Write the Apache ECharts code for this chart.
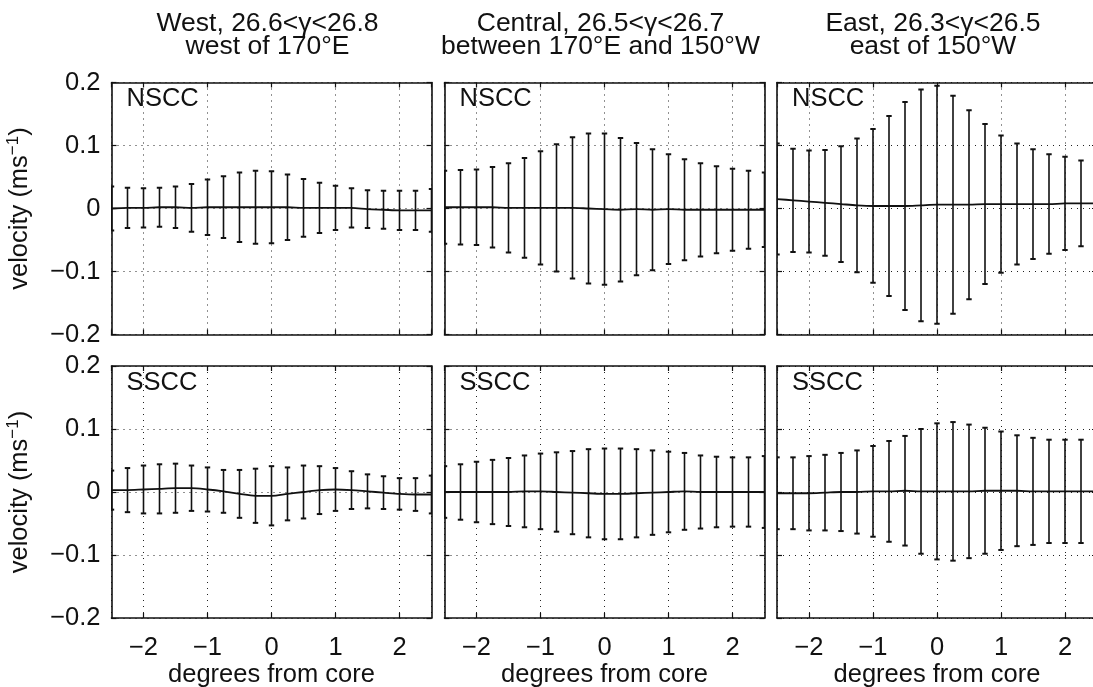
<!DOCTYPE html>
<html>
<head>
<meta charset="utf-8">
<script src="https://cdn.jsdelivr.net/npm/echarts@6/dist/echarts.min.js"></script>
<style>
  html, body { margin: 0; padding: 0; background: #fff; }
  #chart { width: 1093px; height: 687px; }
</style>
</head>
<body>
<div id="chart"></div>
<script>
// ---------------- data ----------------
const degrees = [-2.5, -2.25, -2, -1.75, -1.5, -1.25, -1, -0.75, -0.5, -0.25, 0,
                 0.25, 0.5, 0.75, 1, 1.25, 1.5, 1.75, 2, 2.25, 2.5];

const xTicks = [-2, -1, 0, 1, 2];
const yTicks = [-0.2, -0.1, 0, 0.1, 0.2];

const titleLine1 = ['West, 26.6<γ<26.8', 'Central, 26.5<γ<26.7', 'East, 26.3<γ<26.5'];
const titleLine2 = ['west of 170°E', 'between 170°E and 150°W', 'east of 150°W'];
const currentNames = ['NSCC', 'SSCC'];
const xAxisName = 'degrees from core';

// NSCC (top row)
const nsccWestMean = [0.000, 0.001, 0.001, 0.002, 0.002, 0.001, 0.002, 0.002, 0.002, 0.002, 0.002,
                      0.002, 0.001, 0.001, 0.001, 0.001, -0.001, -0.002, -0.003, -0.003, -0.003];
const nsccWestErr  = [0.035, 0.032, 0.031, 0.031, 0.033, 0.038, 0.044, 0.049, 0.055, 0.058, 0.057,
                      0.052, 0.046, 0.040, 0.035, 0.031, 0.030, 0.030, 0.031, 0.031, 0.034];

const nsccCentralMean = [0.002, 0.002, 0.002, 0.002, 0.001, 0.001, 0.001, 0.001, 0.001, 0.000, -0.001,
                         -0.002, -0.001, -0.002, -0.001, -0.002, -0.002, -0.002, -0.002, -0.002, -0.002];
const nsccCentralErr  = [0.058, 0.059, 0.060, 0.064, 0.071, 0.079, 0.090, 0.101, 0.112, 0.119, 0.120,
                         0.114, 0.105, 0.096, 0.087, 0.080, 0.074, 0.069, 0.065, 0.062, 0.059];

const nsccEastMean = [0.015, 0.013, 0.011, 0.009, 0.007, 0.005, 0.004, 0.004, 0.004, 0.005, 0.006,
                      0.006, 0.006, 0.007, 0.007, 0.007, 0.007, 0.007, 0.008, 0.008, 0.008];
const nsccEastErr  = [0.088, 0.082, 0.081, 0.084, 0.092, 0.106, 0.122, 0.143, 0.165, 0.184, 0.189,
                      0.173, 0.150, 0.127, 0.109, 0.096, 0.087, 0.079, 0.074, 0.068, 0.064];

// SSCC (bottom row)
const ssccWestMean = [0.003, 0.003, 0.004, 0.005, 0.006, 0.006, 0.004, 0.001, -0.003, -0.006, -0.006,
                      -0.003, 0.000, 0.003, 0.004, 0.003, 0.001, -0.001, -0.003, -0.004, -0.004];
const ssccWestErr  = [0.031, 0.035, 0.038, 0.039, 0.039, 0.036, 0.035, 0.034, 0.038, 0.043, 0.047,
                      0.042, 0.042, 0.038, 0.034, 0.030, 0.027, 0.026, 0.025, 0.026, 0.030];

const ssccCentralMean = [0.000, 0.000, 0.000, 0.000, 0.000, 0.001, 0.001, 0.000, -0.001, -0.002, -0.003,
                         -0.003, -0.002, -0.001, 0.000, 0.001, 0.000, 0.000, 0.000, 0.000, 0.000];
const ssccCentralErr  = [0.041, 0.044, 0.048, 0.051, 0.054, 0.057, 0.060, 0.063, 0.066, 0.070, 0.072,
                         0.072, 0.070, 0.067, 0.064, 0.061, 0.058, 0.056, 0.055, 0.055, 0.057];

const ssccEastMean = [-0.002, -0.002, -0.002, -0.001, 0.000, 0.000, 0.001, 0.001, 0.002, 0.001, 0.001,
                      0.001, 0.001, 0.002, 0.002, 0.002, 0.001, 0.001, 0.001, 0.001, 0.001];
const ssccEastErr  = [0.057, 0.057, 0.059, 0.060, 0.062, 0.066, 0.072, 0.080, 0.087, 0.099, 0.108,
                      0.110, 0.106, 0.100, 0.094, 0.088, 0.085, 0.082, 0.082, 0.082, 0.082];

// ---------------- layout ----------------
const FONT = "'Liberation Sans', Arial, Helvetica, sans-serif";
const INK = '#111';
const colLeft = [111.5, 444.5, 777];
const colWidth = 320;
const rowTop = [82.5, 366];
const rowHeight = 252;

const panels = [
  { row: 0, col: 0, mean: nsccWestMean, err: nsccWestErr },
  { row: 0, col: 1, mean: nsccCentralMean, err: nsccCentralErr },
  { row: 0, col: 2, mean: nsccEastMean, err: nsccEastErr },
  { row: 1, col: 0, mean: ssccWestMean, err: ssccWestErr },
  { row: 1, col: 1, mean: ssccCentralMean, err: ssccCentralErr },
  { row: 1, col: 2, mean: ssccEastMean, err: ssccEastErr }
];

const fmtX = v => (v < 0 ? '\u2212' : '') + Math.abs(v);
const fmtY = v => {
  if (Math.abs(v) < 1e-9) return '0';
  return (v < 0 ? '\u2212' : '') + Math.abs(v).toFixed(1);
};

const grids = [], xAxes = [], yAxes = [], series = [], titles = [];

panels.forEach((p, i) => {
  grids.push({ left: colLeft[p.col], top: rowTop[p.row], width: colWidth, height: rowHeight,
               containLabel: false, outerBoundsMode: 'none', show: false });
  const bottomRow = p.row === 1;
  const leftCol = p.col === 0;
  // bottom x axis
  xAxes.push({
    type: 'value', gridIndex: i, min: -2.5, max: 2.5, position: 'bottom',
    axisLine: { show: true, onZero: false, lineStyle: { color: INK, width: 1.6 } },
    axisTick: { show: true, inside: true, length: 5, lineStyle: { color: INK, width: 1.2 } },
    axisLabel: { show: bottomRow, showMinLabel: false, showMaxLabel: false, margin: 17,
                 fontSize: 25.5, fontFamily: FONT, color: INK, formatter: fmtX },
    splitLine: { show: true, lineStyle: { color: '#222', width: 1, type: [1, 5] } },
    name: bottomRow ? xAxisName : '', nameLocation: 'middle', nameGap: 44,
    nameTextStyle: { fontSize: 25.5, fontFamily: FONT, color: INK }
  });
  // top x axis (box + ticks)
  xAxes.push({
    type: 'value', gridIndex: i, min: -2.5, max: 2.5, position: 'top',
    axisLine: { show: true, onZero: false, lineStyle: { color: INK, width: 1.6 } },
    axisTick: { show: true, inside: true, length: 5, lineStyle: { color: INK, width: 1.2 } },
    axisLabel: { show: false }, splitLine: { show: false }
  });
  // left y axis
  yAxes.push({
    type: 'value', gridIndex: i, min: -0.2, max: 0.2, interval: 0.1, position: 'left',
    axisLine: { show: true, onZero: false, lineStyle: { color: INK, width: 1.6 } },
    axisTick: { show: true, inside: true, length: 5, lineStyle: { color: INK, width: 1.2 } },
    axisLabel: { show: leftCol, margin: 11, fontSize: 25.5, fontFamily: FONT, color: INK, formatter: fmtY },
    splitLine: { show: true, lineStyle: { color: '#222', width: 1, type: [1, 5] } },
    name: leftCol ? '{n|velocity (ms}{s|\u22121}{n|)}' : '', nameLocation: 'middle', nameGap: 77,
    nameTextStyle: {
      fontSize: 25.5, fontFamily: FONT, color: INK,
      rich: {
        n: { fontSize: 25.5, fontFamily: FONT, color: INK, lineHeight: 30 },
        s: { fontSize: 17, fontFamily: FONT, color: INK, lineHeight: 30, verticalAlign: 'top' }
      }
    }
  });
  // right y axis
  yAxes.push({
    type: 'value', gridIndex: i, min: -0.2, max: 0.2, interval: 0.1, position: 'right',
    axisLine: { show: true, onZero: false, lineStyle: { color: INK, width: 1.6 } },
    axisTick: { show: true, inside: true, length: 5, lineStyle: { color: INK, width: 1.2 } },
    axisLabel: { show: false }, splitLine: { show: false }
  });

  const xi = 2 * i, yi = 2 * i;
  series.push({
    type: 'line', xAxisIndex: xi, yAxisIndex: yi,
    data: degrees.map((x, k) => [x, p.mean[k]]),
    showSymbol: false, smooth: 0.3, clip: true,
    lineStyle: { color: INK, width: 1.8 }, z: 3, silent: true
  });
  series.push({
    type: 'custom', xAxisIndex: xi, yAxisIndex: yi, clip: true, z: 4, silent: true,
    data: degrees.map((x, k) => [x, p.mean[k] - p.err[k], p.mean[k] + p.err[k]]),
    renderItem: (params, api) => {
      const x = api.value(0);
      const lo = api.coord([x, api.value(1)]);
      const hi = api.coord([x, api.value(2)]);
      const w = 2.7;
      const st = { stroke: INK, lineWidth: 1.6 };
      const cs = { stroke: INK, lineWidth: 2 };
      return {
        type: 'group',
        children: [
          { type: 'line', shape: { x1: lo[0], y1: lo[1], x2: hi[0], y2: hi[1] }, style: st },
          { type: 'line', shape: { x1: lo[0] - w, y1: lo[1], x2: lo[0] + w, y2: lo[1] }, style: cs },
          { type: 'line', shape: { x1: hi[0] - w, y1: hi[1], x2: hi[0] + w, y2: hi[1] }, style: cs }
        ]
      };
    }
  });

  // region label
  titles.push({
    text: currentNames[p.row], left: colLeft[p.col] + 15, top: rowTop[p.row] + 4, padding: 0,
    textStyle: { fontSize: 25.5, fontWeight: 'normal', fontFamily: FONT, color: INK, lineHeight: 25 }
  });
});

// column titles
for (let c = 0; c < 3; c++) {
  titles.push({
    text: titleLine1[c] + '\n' + titleLine2[c],
    left: colLeft[c] + colWidth / 2 - 4, top: 12, textAlign: 'center', padding: 0,
    textStyle: { fontSize: 26.5, fontWeight: 'normal', fontFamily: FONT, color: INK, lineHeight: 23, align: 'center' }
  });
}

const chart = echarts.init(document.getElementById('chart'), null, { renderer: 'canvas' });
chart.setOption({
  animation: false,
  backgroundColor: '#fff',
  title: titles,
  grid: grids,
  xAxis: xAxes,
  yAxis: yAxes,
  series: series
});
</script>
</body>
</html>
